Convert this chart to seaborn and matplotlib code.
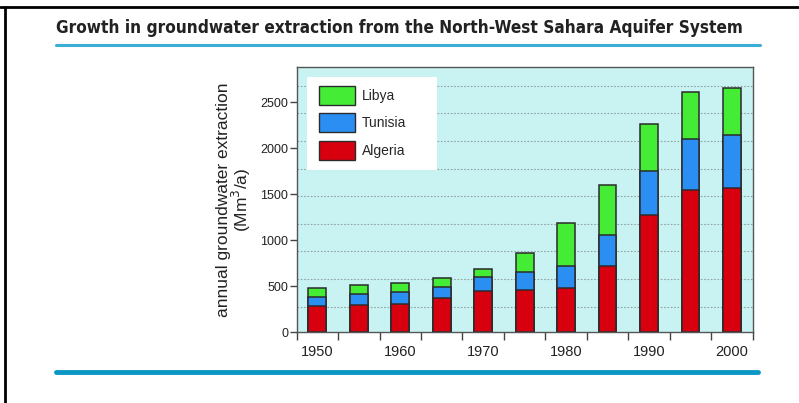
import matplotlib
matplotlib.use("Agg")
import matplotlib.pyplot as plt
from matplotlib.lines import Line2D
from matplotlib.patches import Patch, Rectangle
import seaborn as sns
import numpy as np
import pandas as pd

# values (Mm3/a)
years = ['1950', '1955', '1960', '1965', '1970', '1975', '1980', '1985', '1990', '1995', '2000']
algeria = [282, 293, 304, 373, 447, 461, 487, 721, 1281, 1548, 1574]
tunisia = [102, 121, 135, 121, 153, 191, 230, 333, 469, 557, 571]
libya = [99, 98, 99, 92, 84, 215, 476, 546, 512, 512, 509]

df = pd.DataFrame({'year': years, 'Algeria': algeria, 'Tunisia': tunisia, 'Libya': libya})
df['alg_top'] = df['Algeria']
df['tun_top'] = df['Algeria'] + df['Tunisia']
df['lib_top'] = df['tun_top'] + df['Libya']

colors = {'Libya': '#45ec35', 'Tunisia': '#2b8ef2', 'Algeria': '#d8000f'}
edge = '#2b2b2b'

sns.set_style('ticks')
plt.rcParams['font.family'] = ['Liberation Sans', 'DejaVu Sans']

fig = plt.figure(figsize=(7.99, 4.03), dpi=100)
ax = fig.add_axes([0.3713, 0.1754, 0.5707, 0.6583])
ax.set_facecolor('#c9f3f3')

# stacked bars: draw cumulative totals from the top down
for col, name in [('lib_top', 'Libya'), ('tun_top', 'Tunisia'), ('alg_top', 'Algeria')]:
    sns.barplot(data=df, x='year', y=col, color=colors[name], width=0.43,
                edgecolor=edge, linewidth=1.1, saturation=1, errorbar=None, ax=ax)

ax.set_xlim(-0.5, len(years) - 0.5)
ax.set_ylim(0, 2885)
ax.set_yticks([0, 500, 1000, 1500, 2000, 2500])
ax.set_xticks(range(0, len(years), 2), labels=years[::2])
ax.set_xticks(np.arange(-0.5, len(years), 1), minor=True)
ax.tick_params(axis='x', which='major', length=0, pad=9, labelsize=10.5, colors='#222222')
ax.tick_params(axis='x', which='minor', length=6, width=1, color='#444444', direction='out')
ax.tick_params(axis='y', which='major', length=5, width=1, color='#444444', labelsize=9,
               labelcolor='#222222', pad=1)
ax.set_yticks(np.arange(280, 2800, 300), minor=True)
ax.tick_params(axis='y', which='minor', length=0)
ax.yaxis.grid(True, which='minor', color='#93a3a3', linestyle=(0, (1.5, 1.5)), linewidth=0.8)
ax.set_axisbelow(True)
for s in ax.spines.values():
    s.set_color('#555555')
    s.set_linewidth(1)

ax.set_xlabel('')
ax.set_ylabel('annual groundwater extraction\n(Mm$^3$/a)', fontsize=12.5, color='#222222',
              labelpad=5, linespacing=0.95)

# legend on a white box
ax.add_patch(Rectangle((0.023, 0.612), 0.285, 0.351, transform=ax.transAxes,
                       facecolor='white', edgecolor='none', zorder=4))
handles = [Patch(facecolor=colors[n], edgecolor=edge, linewidth=1, label=n)
           for n in ['Libya', 'Tunisia', 'Algeria']]
ax.legend(handles=handles, loc='upper left', bbox_to_anchor=(0.048, 0.927), borderaxespad=0,
          frameon=False, fontsize=10, handlelength=2.6, handleheight=1.73,
          labelspacing=0.58, handletextpad=0.5, borderpad=0).set_zorder(5)

# title and decorative rules
fig.text(56 / 799, 1 - 28 / 403,
         'Growth in groundwater extraction from the North-West Sahara Aquifer System',
         ha='left', va='center', fontsize=12.35, fontweight='bold', color='#222222',
         family=['Liberation Sans Narrow', 'DejaVu Sans'], fontstretch='condensed')
fig.add_artist(Line2D([56 / 799, 760 / 799], [1 - 44.5 / 403] * 2, color='#3aaed4', lw=2.2))
fig.add_artist(Line2D([56 / 799, 758 / 799], [1 - 371.5 / 403] * 2, color='#0b97c6', lw=3.5))
fig.add_artist(Line2D([0, 1], [1 - 7 / 403] * 2, color='black', lw=2))
fig.add_artist(Line2D([5 / 799, 5 / 799], [0, 1 - 7 / 403], color='black', lw=2))

fig.savefig('out.png', dpi=100)
